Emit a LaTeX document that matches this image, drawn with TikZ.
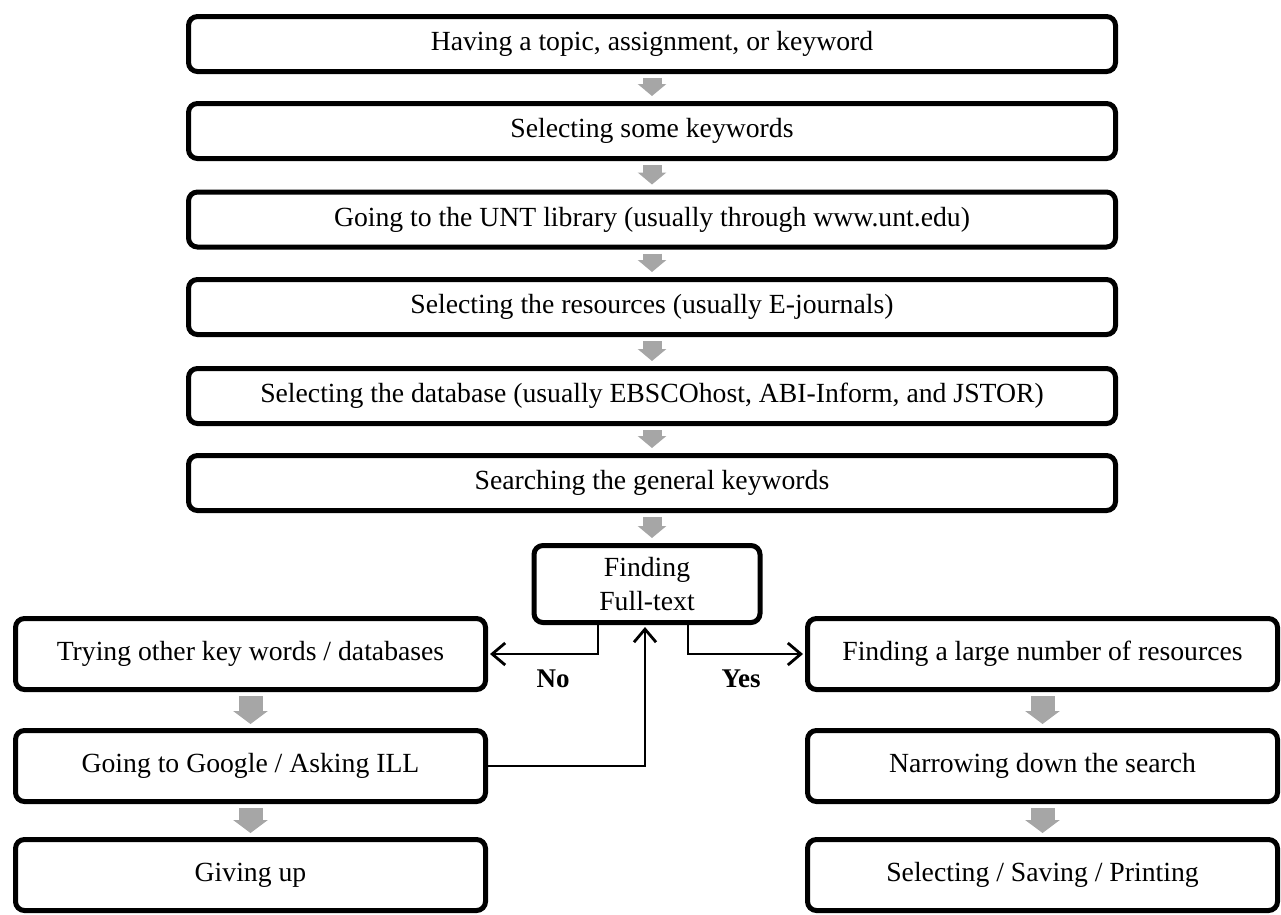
\documentclass[tikz,border=0pt]{standalone}
\usepackage{fontspec}
\setmainfont{Liberation Serif}
\usetikzlibrary{arrows.meta,calc}
\definecolor{blockgray}{HTML}{A6A6A6}
\begin{document}
\begin{tikzpicture}[x=1pt,y=-1pt,
  box/.style={draw, line width=5pt, rounded corners=9pt, inner sep=0pt, align=center,
    font=\fontsize{27.7}{34}\selectfont, fill=white},
  topbox/.style={box, minimum width=927pt, minimum height=55pt},
  sidebox/.style={box, minimum width=470pt, minimum height=71pt},
  findbox/.style={box, minimum width=226pt, minimum height=77pt},
  garrow/.style={draw=blockgray, line width=19pt, -{Triangle[length=12pt,width=28pt]}},
  sgarrow/.style={draw=blockgray, line width=24pt, -{Triangle[length=13pt,width=34pt]}},
  conn/.style={line width=2.8pt, -{Straight Barb[length=13pt,width=22pt]}},
  lbl/.style={font=\bfseries\fontsize{27}{30}\selectfont, inner sep=0pt}
]
\useasboundingbox (0,0) rectangle (1281,914);

\node[topbox] (b1) at (652,44) {Having a topic, assignment, or keyword};
\node[topbox] (b2) at (652,131) {Selecting some keywords};
\node[topbox] (b3) at (652,219.5) {Going to the UNT library (usually through www.unt.edu)};
\node[topbox] (b4) at (652,307) {Selecting the resources (usually E-journals)};
\node[topbox] (b5) at (652,396) {Selecting the database (usually EBSCOhost, ABI-Inform, and JSTOR)};
\node[topbox] (b6) at (652,483) {Searching the general keywords};

\node[findbox] (find) at (647,584) {Finding\\Full-text};

\node[sidebox] (l1) at (250.5,654) {Trying other key words / databases};
\node[sidebox] (l2) at (250.5,766) {Going to Google / Asking ILL};
\node[sidebox] (l3) at (250.5,875) {Giving up};

\node[sidebox] (r1) at (1042.5,654) {Finding a large number of resources};
\node[sidebox] (r2) at (1042.5,766) {Narrowing down the search};
\node[sidebox] (r3) at (1042.5,875) {Selecting / Saving / Printing};

\foreach \a/\b in {b1/b2,b2/b3,b3/b4,b4/b5,b5/b6}
  \draw[garrow] ([yshift=-4pt]\a.south) -- ([yshift=5pt]\b.north);
\draw[garrow] ([yshift=-4pt]b6.south) -- ([yshift=5pt]b6.south |- find.north);
\foreach \a/\b in {l1/l2,l2/l3,r1/r2,r2/r3}
  \draw[sgarrow] ([yshift=-4pt]\a.south) -- ([yshift=4pt]\b.north);

\draw[conn] ([xshift=-49pt]find.south) |- ([xshift=2pt]l1.east);
\draw[conn] ([xshift=41pt]find.south) |- ([xshift=-2pt]r1.west);
\draw[conn] (l2.east) -| ([xshift=-2pt,yshift=-2pt]find.south);

\node[lbl] (no) at (553,679) {No};
\node[lbl] (yes) at (741,679) {Yes};
\end{tikzpicture}
\end{document}
